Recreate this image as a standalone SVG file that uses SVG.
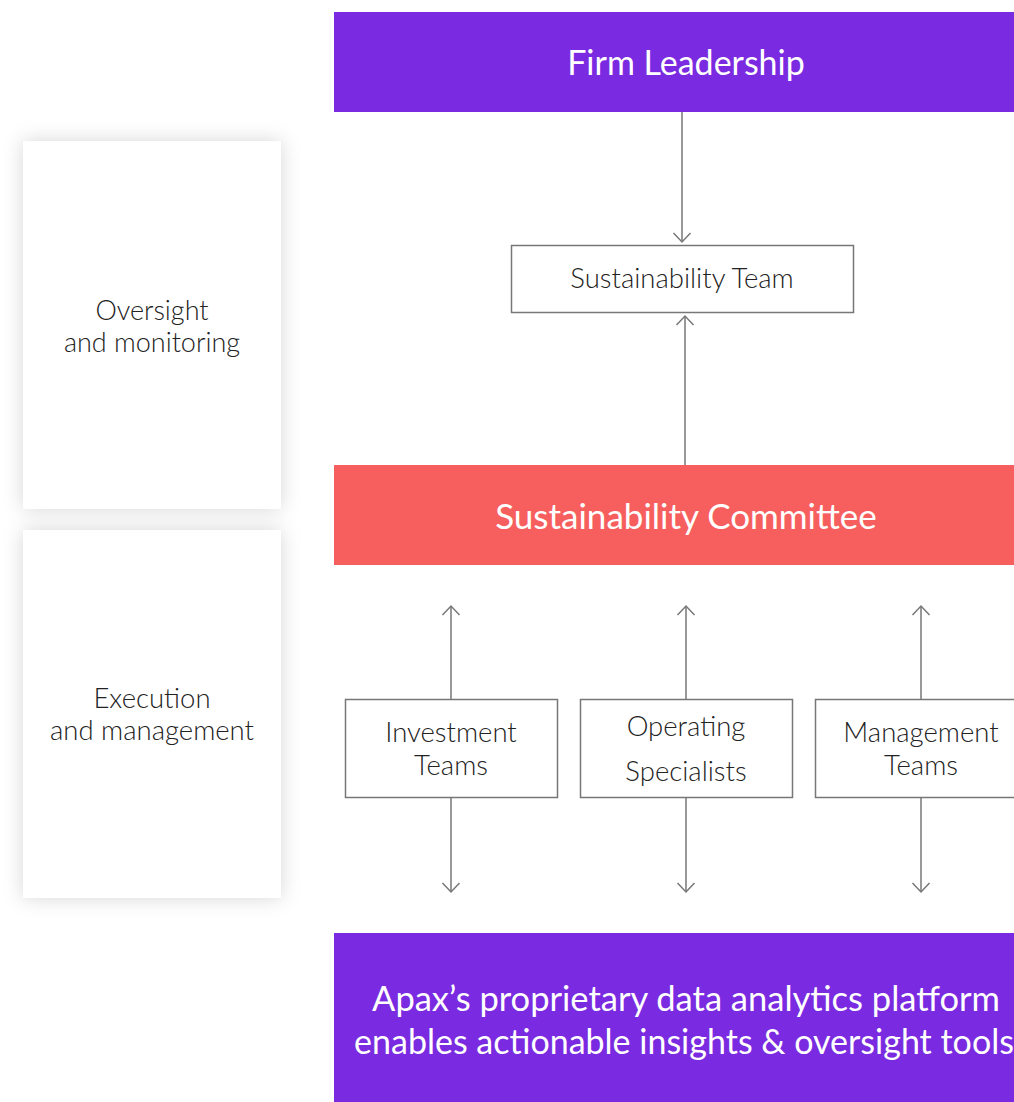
<svg xmlns="http://www.w3.org/2000/svg" width="1014" height="1102" viewBox="0 0 1014 1102">
<style>
.t{font-family:"Lato","Liberation Sans",sans-serif;text-anchor:middle}
.w{fill:#ffffff}
.d{fill:#222222;font-weight:300}
.box{fill:#ffffff;stroke:#777777;stroke-width:1.5}
.ln{stroke:#777777;stroke-width:1.5;fill:none}
</style>
<defs>
<filter id="sh" x="-20%" y="-20%" width="140%" height="140%">
<feDropShadow dx="0" dy="0" stdDeviation="10" flood-color="#000000" flood-opacity="0.16"/>
</filter>
<marker id="ah" viewBox="0 0 20 20" refX="10" refY="10" markerWidth="20" markerHeight="20" markerUnits="userSpaceOnUse" orient="auto">
<path d="M1,1.5 L10,10 L1,18.5" fill="none" stroke="#777777" stroke-width="1.5"/>
</marker>
</defs>
<rect width="1014" height="1102" fill="#ffffff"/>
<g id="panel-oversight">
<rect x="23" y="141" width="258" height="368" fill="#ffffff" filter="url(#sh)"/>
<text class="t d" x="152" y="320" font-size="27">Oversight</text>
<text class="t d" x="152" y="352" font-size="27">and monitoring</text>
</g>
<g id="panel-execution">
<rect x="23" y="530" width="258" height="368" fill="#ffffff" filter="url(#sh)"/>
<text class="t d" x="152" y="708" font-size="27.5">Execution</text>
<text class="t d" x="152" y="740" font-size="27.5">and management</text>
</g>
<g id="firm-leadership">
<rect x="334" y="12" width="680" height="100" fill="#7A2AE0"/>
<text class="t w" x="686" y="75" font-size="34">Firm Leadership</text>
</g>
<g id="sustainability-team">
<rect class="box" x="511.5" y="245.5" width="342" height="67"/>
<text class="t d" x="682" y="288" font-size="27.5">Sustainability Team</text>
</g>
<g id="sustainability-committee">
<rect x="334" y="465" width="680" height="100" fill="#F75F5F"/>
<text class="t w" x="686" y="529" font-size="35">Sustainability Committee</text>
</g>
<g id="investment-teams">
<rect class="box" x="345.5" y="699.5" width="212" height="98"/>
<text class="t d" x="451" y="742" font-size="27.5">Investment</text>
<text class="t d" x="451" y="775" font-size="27.5">Teams</text>
</g>
<g id="operating-specialists">
<rect class="box" x="580.5" y="699.5" width="212" height="98"/>
<text class="t d" x="686" y="736" font-size="27.5">Operating</text>
<text class="t d" x="686" y="781" font-size="27.5">Specialists</text>
</g>
<g id="management-teams">
<rect class="box" x="815.5" y="699.5" width="212" height="98"/>
<text class="t d" x="921" y="742" font-size="27.5">Management</text>
<text class="t d" x="921" y="775" font-size="27.5">Teams</text>
</g>
<g id="platform">
<rect x="334" y="933" width="680" height="169" fill="#7A2AE0"/>
<text class="t w" x="686" y="1011" font-size="34.5">Apax’s proprietary data analytics platform</text>
<text class="t w" x="684" y="1054" font-size="34">enables actionable insights &amp; oversight tools</text>
</g>
<g id="connectors">
<line class="ln" x1="682" y1="112" x2="682" y2="242" marker-end="url(#ah)"/>
<line class="ln" x1="685" y1="465" x2="685" y2="316" marker-end="url(#ah)"/>
<line class="ln" x1="451" y1="699" x2="451" y2="606" marker-end="url(#ah)"/>
<line class="ln" x1="686" y1="699" x2="686" y2="606" marker-end="url(#ah)"/>
<line class="ln" x1="921" y1="699" x2="921" y2="606" marker-end="url(#ah)"/>
<line class="ln" x1="451" y1="798" x2="451" y2="892" marker-end="url(#ah)"/>
<line class="ln" x1="686" y1="798" x2="686" y2="892" marker-end="url(#ah)"/>
<line class="ln" x1="921" y1="798" x2="921" y2="892" marker-end="url(#ah)"/>
</g>
</svg>
